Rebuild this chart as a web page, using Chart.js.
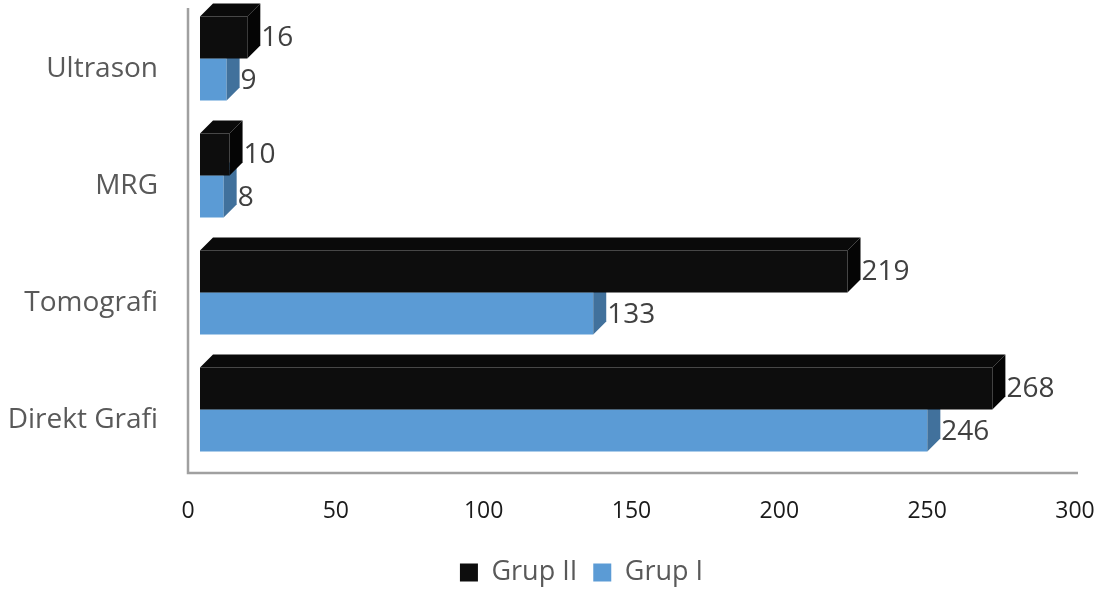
<!DOCTYPE html>
<html>
<head>
<meta charset="utf-8">
<script src="https://cdn.jsdelivr.net/npm/chart.js@4.4.1/dist/chart.umd.min.js"></script>
<style>
  html, body { margin: 0; padding: 0; background: #fff; }
</style>
</head>
<body>
<canvas id="chart" width="1104" height="596"></canvas>
<script>
'use strict';

// Dados (de cima para baixo).
const categories = ['Ultrason', 'MRG', 'Tomografi', 'Direkt Grafi'];
const grupII = [16, 10, 219, 268];
const grupI = [9, 8, 133, 246];
const xMin = 0;
const xMax = 300;
const xStep = 50;

const DEPTH = 13; // profundidade do efeito 3D, px
const LEGEND_SHIFT = 38; // legenda fica um pouco a direita do centro

const FONT = '"Open Sans", "DejaVu Sans", sans-serif';

// Desenha eixos do "fundo", faces laterais/superiores e os rotulos.
const bars3d = {
  id: 'bars3d',
  afterLayout(chart) {
    if (chart.legend) {
      chart.legend.left += LEGEND_SHIFT;
      chart.legend.right += LEGEND_SHIFT;
    }
  },
  beforeDatasetsDraw(chart) {
    const { ctx, chartArea } = chart;
    const x0 = chart.scales.x.getPixelForValue(xMin) - 12;
    const x1 = chart.scales.x.getPixelForValue(xMax) - 9;
    const yBottom = chartArea.bottom + 5;
    ctx.save();
    ctx.strokeStyle = '#a0a0a0';
    ctx.lineWidth = 2.5;
    ctx.beginPath();
    ctx.moveTo(x0, chartArea.top + 8);
    ctx.lineTo(x0, yBottom);
    ctx.lineTo(x1, yBottom);
    ctx.stroke();
    ctx.restore();
  },
  afterDatasetDraw(chart, args) {
    const ds = chart.data.datasets[args.index];
    const ctx = chart.ctx;
    ctx.save();
    args.meta.data.forEach((bar) => {
      const { x, y, base, height } = bar.getProps(['x', 'y', 'base', 'height'], true);
      const top = y - height / 2;
      const bottom = y + height / 2;
      // face superior
      ctx.fillStyle = ds.topColor;
      ctx.beginPath();
      ctx.moveTo(base, top);
      ctx.lineTo(base + DEPTH, top - DEPTH);
      ctx.lineTo(x + DEPTH, top - DEPTH);
      ctx.lineTo(x, top);
      ctx.closePath();
      ctx.fill();
      // face lateral
      ctx.fillStyle = ds.sideColor;
      ctx.beginPath();
      ctx.moveTo(x, top);
      ctx.lineTo(x + DEPTH, top - DEPTH);
      ctx.lineTo(x + DEPTH, bottom - DEPTH);
      ctx.lineTo(x, bottom);
      ctx.closePath();
      ctx.fill();
    });
    ctx.restore();
  },
  afterDatasetsDraw(chart) {
    const ctx = chart.ctx;
    ctx.save();
    ctx.font = '28px ' + FONT;
    ctx.fillStyle = '#404040';
    ctx.textAlign = 'left';
    ctx.textBaseline = 'middle';
    chart.data.datasets.forEach((ds, di) => {
      chart.getDatasetMeta(di).data.forEach((bar, i) => {
        const { x, y } = bar.getProps(['x', 'y'], true);
        ctx.fillText(String(ds.data[i]), x + DEPTH + 1, y + 1);
      });
    });
    ctx.restore();
  },
};

new Chart(document.getElementById('chart'), {
  type: 'bar',
  data: {
    labels: categories,
    datasets: [
      {
        label: 'Grup II',
        data: grupII,
        backgroundColor: '#0d0d0d',
        topColor: '#0a0a0a',
        sideColor: '#050505',
      },
      {
        label: 'Grup I',
        data: grupI,
        backgroundColor: '#5b9bd5',
        topColor: '#6aa6db',
        sideColor: '#41719c',
      },
    ],
  },
  options: {
    indexAxis: 'y',
    responsive: false,
    animation: false,
    devicePixelRatio: 1,
    categoryPercentage: 0.72,
    barPercentage: 1,
    borderWidth: 0,
    layout: { padding: { top: 0, right: 17, left: 0, bottom: 0 } },
    plugins: {
      tooltip: { enabled: false },
      legend: {
        position: 'bottom',
        labels: {
          color: '#595959',
          font: { family: FONT, size: 27 },
          boxWidth: 18,
          boxHeight: 18,
          padding: 16,
        },
      },
    },
    scales: {
      x: {
        min: xMin,
        max: xMax,
        grid: { display: false },
        border: { display: false },
        ticks: {
          stepSize: xStep,
          color: '#1a1a1a',
          font: { family: FONT, size: 23 },
          labelOffset: -12,
          padding: 22,
          maxRotation: 0,
        },
        afterFit(scale) {
          scale.height = 75;
          scale.paddingLeft = 0;
          scale.paddingRight = 0;
        },
      },
      y: {
        grid: { display: false },
        border: { display: false },
        ticks: {
          color: '#595959',
          font: { family: FONT, size: 28 },
          labelOffset: 11,
          padding: 34,
        },
        afterFit(scale) {
          scale.width = 200;
          scale.paddingTop = 0;
          scale.paddingBottom = 0;
        },
      },
    },
  },
  plugins: [bars3d],
});
</script>
</body>
</html>
